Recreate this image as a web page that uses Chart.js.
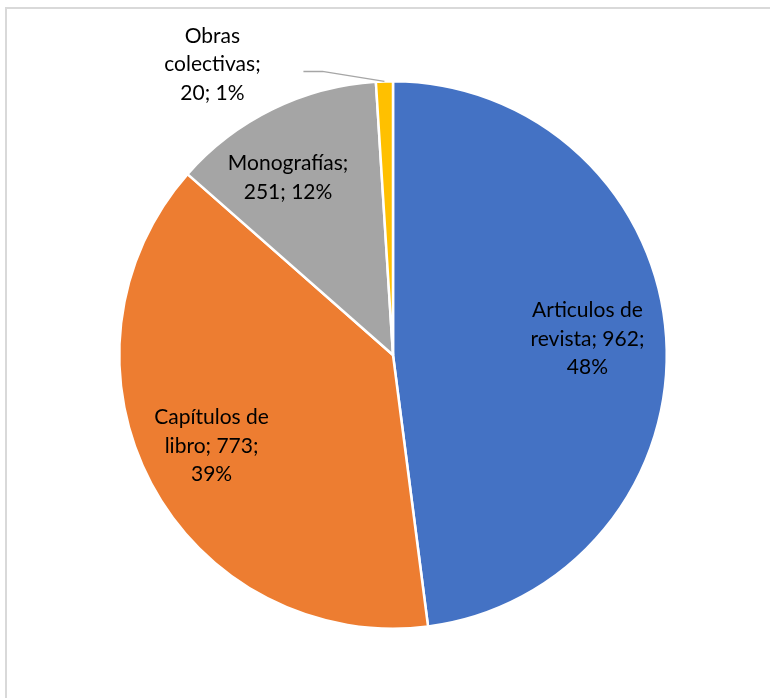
<!DOCTYPE html>
<html>
<head>
<meta charset="utf-8">
<script src="https://cdn.jsdelivr.net/npm/chart.js@4.4.0/dist/chart.umd.min.js"></script>
<style>
  html, body { margin: 0; padding: 0; background: #fff; }
  #wrap { position: relative; width: 770px; height: 698px; overflow: hidden; }
  #marco { position: absolute; left: 5px; top: 7px; width: 780px; height: 720px;
           border: 2px solid #d9d9d9; box-sizing: border-box; }
  #grafico { position: absolute; left: 0; top: 0; }
</style>
</head>
<body>
<div id="wrap">
  <div id="marco"></div>
  <canvas id="grafico" width="770" height="698"></canvas>
</div>
<script>
// ===== DATOS =====
const categorias = ["Articulos de revista", "Capítulos de libro", "Monografías", "Obras colectivas"];
const valores = [962, 773, 251, 20];
const porcentajes = ["48%", "39%", "12%", "1%"];
const etiquetas = [
    ["Articulos de", "revista; 962;", "48%"],
    ["Capítulos de", "libro; 773;", "39%"],
    ["Monografías;", "251; 12%"],
    ["Obras", "colectivas;", "20; 1%"]
];
const colores = ["#4472C4", "#ED7D31", "#A5A5A5", "#FFC000"];

const FUENTE = '21px Lato, "Open Sans", sans-serif';
const ALTO_LINEA = 28.5;

// ===== ETIQUETAS =====
const pluginEtiquetas = {
    id: "etiquetas",
    afterDatasetsDraw(chart) {
        const ctx = chart.ctx;
        const arcos = chart.getDatasetMeta(0).data;
        // pequeños ajustes de posicion de cada etiqueta
        const ajustes = [[-5, -3], [-5, -3], [-17, 2], [0, 0]];
        ctx.save();
        ctx.font = FUENTE;
        ctx.fillStyle = "#000";
        ctx.textAlign = "center";
        ctx.textBaseline = "middle";

        arcos.forEach((arco, i) => {
            const p = arco.getProps(["x", "y", "startAngle", "endAngle", "outerRadius"], true);
            const medio = (p.startAngle + p.endAngle) / 2;
            const lineas = etiquetas[i];
            let cx, cy;

            if (i === 3) {
                // etiqueta externa con linea guia
                const ax = p.x + Math.cos(medio) * p.outerRadius;
                const ay = p.y + Math.sin(medio) * p.outerRadius;
                ctx.strokeStyle = "#A6A6A6";
                ctx.lineWidth = 1.5;
                ctx.beginPath();
                ctx.moveTo(ax, ay);
                ctx.lineTo(ax - 62, ay - 10);
                ctx.lineTo(ax - 81, ay - 10);
                ctx.stroke();
                cx = ax - 172;
                cy = ay - 17;
            } else {
                const f = 0.73;
                cx = p.x + Math.cos(medio) * p.outerRadius * f + ajustes[i][0];
                cy = p.y + Math.sin(medio) * p.outerRadius * f + ajustes[i][1];
            }

            const inicio = cy - (lineas.length - 1) * ALTO_LINEA / 2;
            lineas.forEach((t, k) => ctx.fillText(t, cx, inicio + k * ALTO_LINEA));
        });
        ctx.restore();
    }
};

// ===== GRAFICO =====
const ctx = document.getElementById("grafico").getContext("2d");
window.grafico = new Chart(ctx, {
    type: "pie",
    data: {
        labels: categorias,
        datasets: [{
            data: valores,
            backgroundColor: colores,
            borderColor: "#ffffff",
            borderWidth: 2.5
        }]
    },
    options: {
        responsive: false,
        animation: false,
        layout: { padding: { left: 118, right: 102, top: 80, bottom: 68 } },
        plugins: {
            legend: { display: false },
            tooltip: { enabled: false }
        }
    },
    plugins: [pluginEtiquetas]
});
</script>
</body>
</html>
